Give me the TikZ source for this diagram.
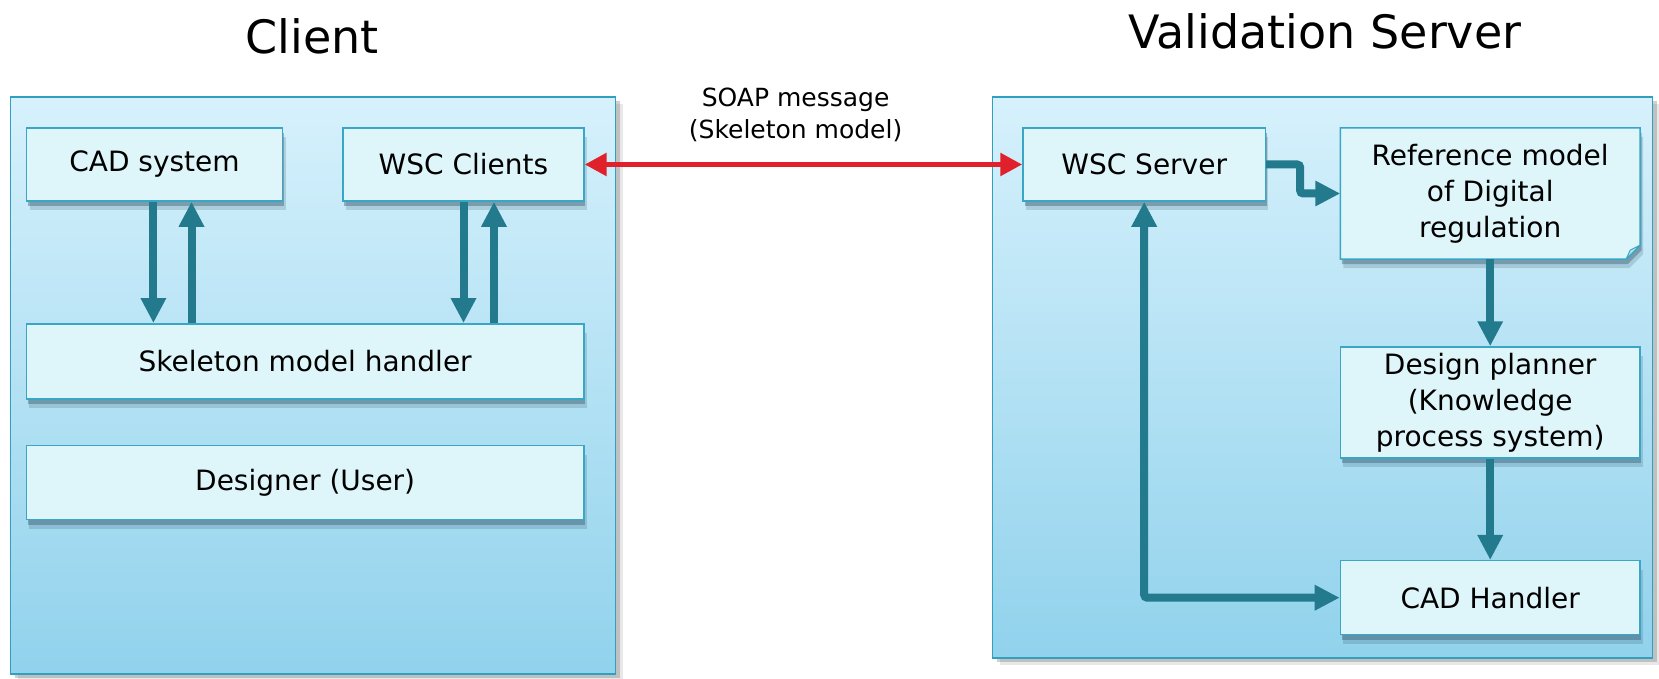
\documentclass[tikz,border=0pt]{standalone}
\usepackage{fontspec}
\setmainfont{DejaVu Sans}
\usetikzlibrary{arrows.meta,shadows,calc}
\definecolor{contTop}{RGB}{214,241,252}
\definecolor{contBot}{RGB}{145,210,236}
\definecolor{contLine}{RGB}{48,160,192}
\definecolor{boxFill}{RGB}{222,245,250}
\definecolor{boxLine}{RGB}{56,166,196}
\definecolor{arrCol}{RGB}{34,122,140}
\definecolor{soapRed}{RGB}{224,32,43}
\definecolor{shadowCol}{RGB}{50,85,105}
\pgfdeclarelayer{back}
\pgfdeclarelayer{mid}
\pgfsetlayers{back,mid,main}
\begin{document}
\begin{tikzpicture}[x=1pt,y=-1pt,
  container/.style={draw=contLine, line width=1.5pt, top color=contTop, bottom color=contBot,
    drop shadow={shadow xshift=7pt, shadow yshift=-7pt, opacity=0.15, fill=black!60},
    drop shadow={shadow xshift=4pt, shadow yshift=-4pt, opacity=0.3, fill=black!60}},
  boxshadow/.style={drop shadow={shadow xshift=3pt, shadow yshift=-9pt, opacity=0.2, fill=shadowCol},
    drop shadow={shadow xshift=1.5pt, shadow yshift=-5pt, opacity=0.4, fill=shadowCol}},
  box/.style={draw=boxLine, line width=1.5pt, fill=boxFill, inner sep=0pt, align=center,
    font=\fontsize{28}{36}\selectfont, boxshadow},
  boxtext/.style={inner sep=0pt, align=center, font=\fontsize{28}{36}\selectfont},
  title/.style={font=\fontsize{46}{54}\selectfont, inner sep=0pt},
  flow/.style={draw=arrCol, line width=8pt, -{Triangle[width=24pt,length=25pt]}, rounded corners=3pt},
  bflow/.style={draw=arrCol, line width=8pt, {Triangle[width=24pt,length=25pt]}-{Triangle[width=24pt,length=25pt]}, rounded corners=3pt},
  soap/.style={draw=soapRed, line width=5.5pt, {Triangle[width=22pt,length=22pt]}-{Triangle[width=22pt,length=22pt]}}
]
\begin{pgfonlayer}{back}
\fill[white] (0,0) rectangle (1659,679);
\end{pgfonlayer}
\useasboundingbox (0,0) rectangle (1659,679);

% containers
\begin{pgfonlayer}{back}
\node[container, minimum width=605pt, minimum height=577pt, inner sep=0pt] (client) at (313.2,385.7) {};
\node[container, minimum width=660pt, minimum height=561pt, inner sep=0pt] (server) at (1322.5,377.7) {};
\end{pgfonlayer}

% titles
\node[title] (tclient) at (312,36) {Client};
\node[title] (tserver) at (1325,31) {Validation Server};

% client boxes
\node[box, minimum width=256pt, minimum height=73pt] (cad) at (154.5,164.5) {CAD system};
\node[box, minimum width=241pt, minimum height=73pt] (wscc) at (463.4,164.5) {WSC Clients};
\node[box, minimum width=557.5pt, minimum height=75pt] (skel) at (305.2,361.3) {Skeleton model handler};
\node[box, minimum width=557.5pt, minimum height=74pt] (des) at (305.2,482.5) {Designer (User)};

% server boxes
\node[box, minimum width=242.4pt, minimum height=73pt] (wscs) at (1144.2,164.5) {WSC Server};
\node[boxtext, minimum width=299.5pt, minimum height=131pt] (ref) at (1490.2,193.5) {Reference model\\of Digital\\regulation};
\node[box, minimum width=299.5pt, minimum height=111pt] (plan) at (1490.2,402.5) {Design planner\\(Knowledge\\process system)};
\node[box, minimum width=299.5pt, minimum height=74pt] (cadh) at (1490.2,597.7) {CAD Handler};

% folded-corner outline of the reference model box
\begin{pgfonlayer}{mid}
\draw[draw=boxLine, line width=1.5pt, fill=boxFill, boxshadow]
  (ref.north west) -- (ref.north east) -- ($(ref.south east)+(0,-14)$)
  -- ($(ref.south east)+(-14,0)$) -- (ref.south west) -- cycle;
\draw[draw=boxLine, line width=1pt, fill=boxLine!35!white, line join=round]
  ($(ref.south east)+(0,-14)$) -- ($(ref.south east)+(-10,-9)$) -- ($(ref.south east)+(-14,0)$) -- cycle;
\end{pgfonlayer}

% SOAP message
\node[inner sep=0pt, align=center, font=\fontsize{25}{32}\selectfont] (soaplbl) at (795.6,115) {SOAP message\\(Skeleton model)};
\draw[soap] (wscc.east) -- (wscs.west);

% client connectors
\coordinate (xa) at (153.4,0);
\coordinate (xb) at (191.5,0);
\coordinate (xc) at (463.5,0);
\coordinate (xd) at (494,0);
\draw[flow] (cad.south -| xa) -- (skel.north -| xa);
\draw[flow] (skel.north -| xb) -- (cad.south -| xb);
\draw[flow] (wscc.south -| xc) -- (skel.north -| xc);
\draw[flow] (skel.north -| xd) -- (wscc.south -| xd);

% server connectors
\draw[flow] (wscs.east) -- ++(34,0) |- (ref.west);
\draw[bflow] (wscs.south) |- (cadh.west);
\draw[flow] (ref.south) -- (plan.north);
\draw[flow] (plan.south) -- (cadh.north);
\end{tikzpicture}
\end{document}
